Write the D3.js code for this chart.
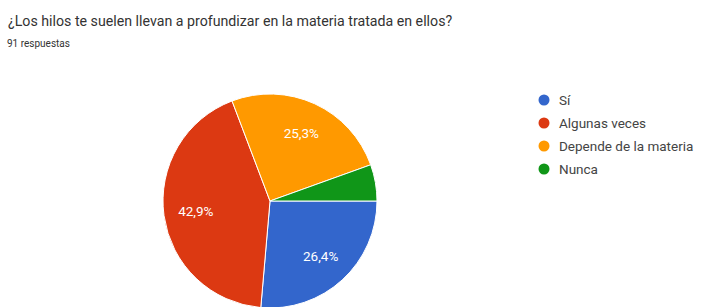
<!DOCTYPE html>
<html>
<head>
<meta charset="utf-8">
<script src="https://cdn.jsdelivr.net/npm/d3@7"></script>
<style>
  body { margin: 0; background: #fff; }
  text { font-family: Roboto, "Noto Sans", sans-serif; }
</style>
</head>
<body>
<div id="chart"></div>
<script>
var width = 702
var height = 307

// answers and counts (91 respuestas)
const categories = ["Sí", "Algunas veces", "Depende de la materia", "Nunca"];
const counts = [24, 39, 23, 5];
const colors = ["#3366cc", "#dc3912", "#ff9900", "#109618"];
const title = "¿Los hilos te suelen llevan a profundizar en la materia tratada en ellos?";
const subtitle = "91 respuestas";

const total = d3.sum(counts);
const data = categories.map((c, i) => ({name: c, value: counts[i], color: colors[i]}));

const svg = d3.select("#chart").append("svg")
    .attr("width", width)
    .attr("height", height);

svg.append("text")
    .attr("x", 8).attr("y", 26)
    .attr("font-size", 14.2)
    .attr("fill", "#333")
    .text(title);

svg.append("text")
    .attr("x", 7).attr("y", 47)
    .attr("font-size", 10)
    .attr("fill", "#333")
    .text(subtitle);

const cx = 270, cy = 201, radius = 107;

// slices start at 3 o'clock and go clockwise
const pie = d3.pie()
    .startAngle(Math.PI / 2)
    .endAngle(Math.PI / 2 + 2 * Math.PI)
    .sort(null)
    .value(d => d.value);

const arc = d3.arc().innerRadius(0).outerRadius(radius);
const labelArc = d3.arc().innerRadius(radius * 0.7).outerRadius(radius * 0.7);

const g = svg.append("g").attr("transform", `translate(${cx},${cy})`);

const arcs = pie(data);

g.selectAll("path")
    .data(arcs)
    .join("path")
    .attr("d", arc)
    .attr("fill", d => d.data.color)
    .attr("stroke", "#fff")
    .attr("stroke-width", 1);

const fmt = v => d3.format(".1f")(v).replace(".", ",") + "%";

g.selectAll(".pct")
    .data(arcs.filter(d => d.data.value / total > 0.1))
    .join("text")
    .attr("class", "pct")
    .attr("transform", d => `translate(${labelArc.centroid(d)})`)
    .attr("text-anchor", "middle")
    .attr("dy", "0.35em")
    .attr("font-size", 13.5)
    .attr("fill", "#fff")
    .text(d => fmt(d.data.value / total * 100));

// legend
const legend = svg.append("g").attr("transform", "translate(544,100)");
const item = legend.selectAll("g")
    .data(data)
    .join("g")
    .attr("transform", (d, i) => `translate(0,${i * 23})`);

item.append("circle")
    .attr("r", 5.5)
    .attr("fill", d => d.color);

item.append("text")
    .attr("x", 15)
    .attr("dy", "0.35em")
    .attr("font-size", 13.5)
    .attr("fill", "#444")
    .text(d => d.name);
</script>
</body>
</html>
